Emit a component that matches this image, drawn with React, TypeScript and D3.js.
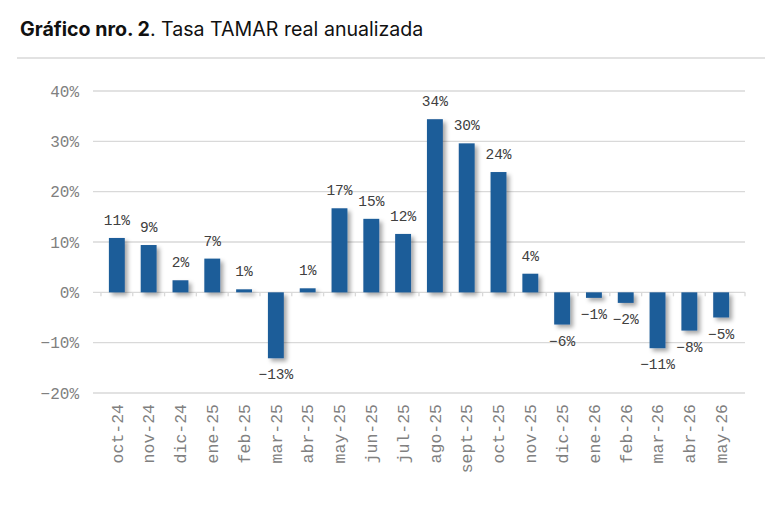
import React, { useEffect, useRef } from "react";
import * as d3 from "d3";

// monthly real TAMAR rate, annualised (%)
const months = [
  "oct-24", "nov-24", "dic-24", "ene-25", "feb-25", "mar-25", "abr-25",
  "may-25", "jun-25", "jul-25", "ago-25", "sept-25", "oct-25", "nov-25",
  "dic-25", "ene-26", "feb-26", "mar-26", "abr-26", "may-26",
];
const rates = [
  10.8, 9.4, 2.4, 6.7, 0.6, -13.1, 0.8, 16.7, 14.6, 11.6, 34.4, 29.6, 23.9,
  3.7, -6.4, -1.1, -2.1, -11.1, -7.6, -5.0,
];
const yTicks = [-20, -10, 0, 10, 20, 30, 40];

const App: React.FC = () => {
  const ref = useRef<SVGSVGElement | null>(null);

  useEffect(() => {
    const svg = d3.select(ref.current);
    svg.selectAll("*").remove();

    const left = 93;
    const right = 745;
    const top = 91;
    const bottom = 393;

    const x = d3.scaleBand().domain(months).range([left, right]).padding(0.5);
    const y = d3.scaleLinear().domain([-20, 40]).range([bottom, top]);

    // drop shadow for the bars
    const defs = svg.append("defs");
    const f = defs
      .append("filter")
      .attr("id", "barShadow")
      .attr("x", "-50%")
      .attr("y", "-20%")
      .attr("width", "200%")
      .attr("height", "140%");
    f.append("feDropShadow")
      .attr("dx", 3)
      .attr("dy", 3)
      .attr("stdDeviation", 2)
      .attr("flood-color", "#000")
      .attr("flood-opacity", 0.35);

    // title
    const title = svg
      .append("text")
      .attr("x", 20)
      .attr("y", 36)
      .attr("font-family", "Inter, 'Noto Sans', sans-serif")
      .attr("font-size", 19.6)
      .attr("fill", "#111");
    title.append("tspan").attr("font-weight", 700).text("Gráfico nro. 2");
    title.append("tspan").text(". Tasa TAMAR real anualizada");

    svg
      .append("line")
      .attr("x1", 17)
      .attr("x2", 765)
      .attr("y1", 58)
      .attr("y2", 58)
      .attr("stroke", "#d9d9d9")
      .attr("stroke-width", 1.5);

    // gridlines + y labels
    const grid = svg.append("g");
    grid
      .selectAll("line")
      .data(yTicks)
      .join("line")
      .attr("x1", left)
      .attr("x2", right)
      .attr("y1", (d) => y(d))
      .attr("y2", (d) => y(d))
      .attr("stroke", "#d9d9d9")
      .attr("stroke-width", 1.3);
    grid
      .selectAll("text")
      .data(yTicks)
      .join("text")
      .attr("x", left - 14)
      .attr("y", (d) => y(d))
      .attr("dy", "0.35em")
      .attr("text-anchor", "end")
      .attr("font-family", "'Liberation Mono', monospace")
      .attr("font-size", 16)
      .attr("fill", "#808080")
      .text((d) => `${d < 0 ? "\u2212" : ""}${Math.abs(d)}%`);

    // small ticks on the zero line between categories
    const bounds = months.map((m) => (x(m) as number) - (x.step() * x.padding()) / 2);
    bounds.push(right);
    svg
      .append("g")
      .selectAll("line")
      .data(bounds)
      .join("line")
      .attr("x1", (d) => d)
      .attr("x2", (d) => d)
      .attr("y1", y(0))
      .attr("y2", y(0) + 4)
      .attr("stroke", "#d9d9d9")
      .attr("stroke-width", 1.3);

    // bars
    svg
      .append("g")
      .attr("filter", "url(#barShadow)")
      .selectAll("rect")
      .data(rates)
      .join("rect")
      .attr("x", (_, i) => x(months[i]) as number)
      .attr("width", x.bandwidth())
      .attr("y", (d) => y(Math.max(0, d)))
      .attr("height", (d) => Math.abs(y(d) - y(0)))
      .attr("fill", "#1f5d99");

    // value labels
    svg
      .append("g")
      .selectAll("text")
      .data(rates)
      .join("text")
      .attr("x", (_, i) => (x(months[i]) as number) + x.bandwidth() / 2)
      .attr("y", (d) => (d >= 0 ? y(d) - 13 : y(d) + 21))
      .attr("text-anchor", "middle")
      .attr("font-family", "'Liberation Mono', monospace")
      .attr("font-size", 14.5)
      .attr("fill", "#404040")
      .text((d) => `${d < 0 ? "\u2212" : ""}${Math.abs(Math.round(d))}%`);

    // month labels, rotated
    svg
      .append("g")
      .selectAll("text")
      .data(months)
      .join("text")
      .attr("transform", (m) => `translate(${(x(m) as number) + x.bandwidth() / 2},404) rotate(-90)`)
      .attr("dy", "0.35em")
      .attr("text-anchor", "end")
      .attr("font-family", "'Liberation Mono', monospace")
      .attr("font-size", 16.5)
      .attr("fill", "#808080")
      .text((m) => m);
  }, []);

  return (
    <svg
      ref={ref}
      width={780}
      height={506}
      style={{ position: "absolute", left: 0, top: 0, background: "#fff" }}
    />
  );
};

export default App;
